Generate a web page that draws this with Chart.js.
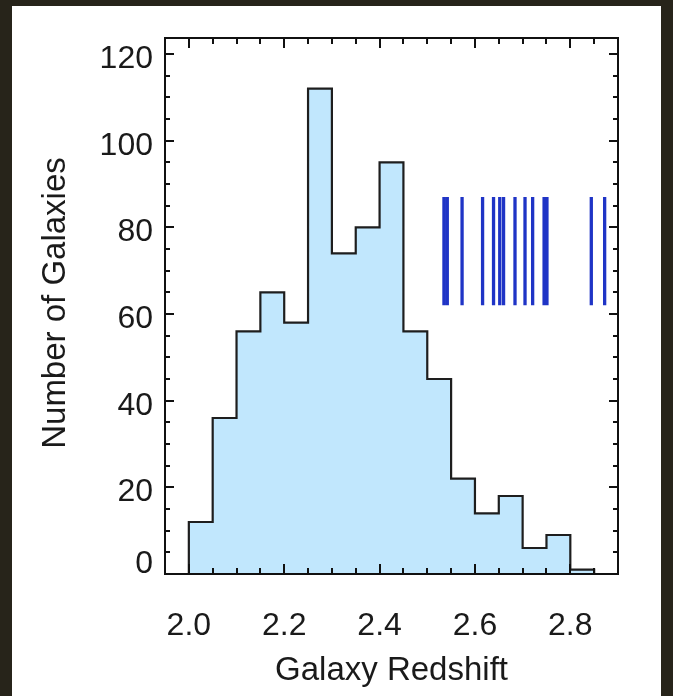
<!DOCTYPE html>
<html>
<head>
<meta charset="utf-8">
<script src="https://cdn.jsdelivr.net/npm/chart.js@4"></script>
<style>
  html, body { margin: 0; padding: 0; background: #27241a; }
  #panel { position: absolute; left: 12px; top: 6px; width: 649px; height: 690px; background: #fff; }
  #chart { position: absolute; left: 0; top: 0; }
</style>
</head>
<body>
<div id="panel"></div>
<canvas id="chart" width="673" height="696"></canvas>
<script>
// redshift histogram, lower bin edges and galaxy counts
const binStarts = [2.00, 2.05, 2.10, 2.15, 2.20, 2.25, 2.30, 2.35, 2.40, 2.45, 2.50, 2.55, 2.60, 2.65, 2.70, 2.75, 2.80];
const binWidth = 0.05;
const counts = [12, 36, 56, 65, 58, 112, 74, 80, 95, 56, 45, 22, 14, 18, 6, 9, 1];

// background QSO redshifts, drawn as vertical markers
const qsoRedshifts = [2.535, 2.542, 2.573, 2.616, 2.639, 2.652, 2.660, 2.684, 2.705, 2.721, 2.745, 2.751, 2.844, 2.872];
const markerRange = [62, 87];

const xTickLabels = [2.0, 2.2, 2.4, 2.6, 2.8];
const yTickLabels = [0, 20, 40, 60, 80, 100, 120];

const FONT = '"Liberation Sans", Arial, Helvetica, sans-serif';

// step outline: start at zero, one point per bin, close back to zero
const lastEdge = binStarts[binStarts.length - 1] + binWidth;
const histPoints = [{ x: binStarts[0], y: 0 }]
  .concat(binStarts.map((x, i) => ({ x: x, y: counts[i] })))
  .concat([{ x: lastEdge, y: 0 }]);

const markerPoints = [];
qsoRedshifts.forEach(z => {
  markerPoints.push({ x: z, y: markerRange[0] }, { x: z, y: markerRange[1] }, { x: z, y: null });
});

// IDL style box with inward ticks and hand placed labels
const frameAxes = {
  id: 'frameAxes',
  afterDraw(chart) {
    const { ctx, chartArea: a } = chart;
    const xs = chart.scales.x, ys = chart.scales.y;
    ctx.save();
    ctx.strokeStyle = '#111';
    ctx.lineWidth = 2;
    ctx.strokeRect(a.left, a.top, a.right - a.left, a.bottom - a.top);

    ctx.beginPath();
    for (let k = 0; k <= 19; k++) {
      const v = 1.95 + k * 0.05;
      const major = Math.abs(v * 5 - Math.round(v * 5)) < 1e-6;
      const len = major ? 10 : 6;
      const px = Math.round(xs.getPixelForValue(v));
      ctx.moveTo(px, a.bottom); ctx.lineTo(px, a.bottom - len);
      ctx.moveTo(px, a.top); ctx.lineTo(px, a.top + len);
    }
    for (let v = 0; v <= 120; v += 5) {
      const len = v % 20 === 0 ? 9 : 5;
      const py = Math.round(ys.getPixelForValue(v));
      ctx.moveTo(a.left, py); ctx.lineTo(a.left + len, py);
      ctx.moveTo(a.right, py); ctx.lineTo(a.right - len, py);
    }
    ctx.stroke();

    ctx.fillStyle = '#1a1a1a';
    ctx.font = '32px ' + FONT;
    ctx.textAlign = 'right';
    ctx.textBaseline = 'middle';
    yTickLabels.forEach(v => {
      const py = ys.getPixelForValue(v) + (v === 0 ? -10 : 5);
      ctx.fillText(String(v), a.left - 12, py);
    });
    ctx.textAlign = 'center';
    xTickLabels.forEach(v => {
      ctx.fillText(v.toFixed(1), xs.getPixelForValue(v), 626);
    });

    ctx.font = '33px ' + FONT;
    ctx.textBaseline = 'alphabetic';
    ctx.fillText('Galaxy Redshift', (a.left + a.right) / 2, 680);

    ctx.translate(65, 303);
    ctx.rotate(-Math.PI / 2);
    ctx.fillText('Number of Galaxies', 0, 0);
    ctx.restore();
  }
};

new Chart(document.getElementById('chart'), {
  type: 'line',
  data: {
    datasets: [
      {
        label: 'Galaxies',
        data: histPoints,
        stepped: true,
        fill: 'origin',
        backgroundColor: '#c1e7fd',
        borderColor: '#1e1e1e',
        borderWidth: 2.2,
        pointRadius: 0
      },
      {
        label: 'QSOs',
        data: markerPoints,
        fill: false,
        spanGaps: false,
        borderColor: '#1f34c6',
        borderWidth: 3.3,
        pointRadius: 0
      }
    ]
  },
  options: {
    responsive: false,
    animation: false,
    layout: { padding: { left: 165, top: 38, right: 55, bottom: 122 } },
    plugins: {
      legend: { display: false },
      tooltip: { enabled: false }
    },
    scales: {
      x: { type: 'linear', min: 1.95, max: 2.9, display: false },
      y: { min: 0, max: 123.7, display: false }
    }
  },
  plugins: [frameAxes]
});
</script>
</body>
</html>
